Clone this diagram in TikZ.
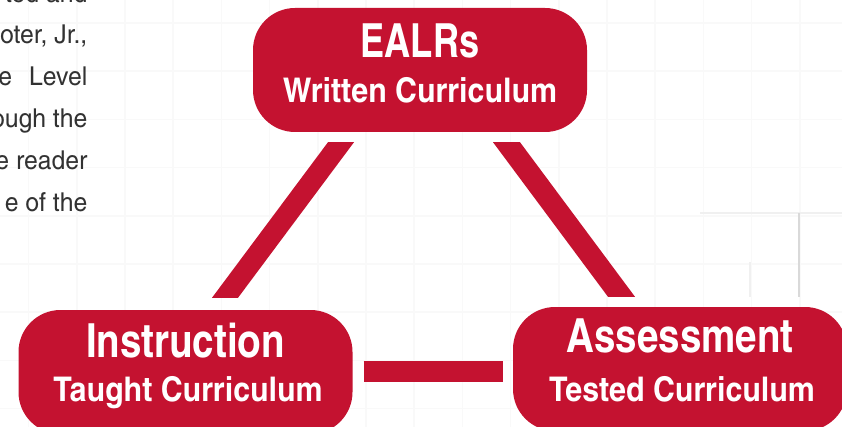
\documentclass[tikz,border=0pt]{standalone}
\usepackage{fontspec}
\newfontfamily\cnfont{TeX Gyre Heros Cn}
\newfontfamily\subfont{TeX Gyre Heros Cn}[FakeStretch=1.09]
\newfontfamily\bodyfont{TeX Gyre Heros Cn}[FakeStretch=1.16]
\usetikzlibrary{calc}
\definecolor{crim}{RGB}{196,18,48}
\definecolor{bodytext}{RGB}{50,50,50}
\begin{document}
\begin{tikzpicture}[x=1pt,y=-1pt,
  box/.style={fill=crim, rounded corners=42pt, minimum width=334pt, minimum height=124pt, inner sep=0pt},
  head/.style={anchor=base, text=white, font=\cnfont\bfseries\fontsize{47}{47}\selectfont, inner sep=0pt},
  sub/.style={anchor=base, text=white, font=\subfont\bfseries\fontsize{34}{34}\selectfont, inner sep=0pt},
  bar/.style={fill=crim},
  hbar/.style={draw=crim, line width=21pt},
  body/.style={anchor=base east, text=bodytext, font=\bodyfont\fontsize{26}{26}\selectfont, inner sep=0pt},
  gridline/.style={draw=gray!5, line width=1.5pt},
  shadowline/.style={draw=gray!22, line width=1.8pt}]
\useasboundingbox (0,0) rectangle (842,427);
\clip (0,0) rectangle (842,427);
% faint background grid
\foreach \i in {0,...,17} { \draw[gridline] ({28.6+48.2*\i},0) -- ({28.6+48.2*\i},427); }
\foreach \j in {0,...,8} { \draw[gridline] (0,{23+48.2*\j}) -- (842,{23+48.2*\j}); }
\draw[shadowline, draw=gray!12] (700,213) -- (842,213);
\draw[shadowline, draw=gray!30] (799,213) -- (799,297);
\draw[shadowline, draw=gray!12] (750,262) -- (750,297);
% body text (cut off at the left)
\node[body] (t0) at (87.5,3) {ted and};
\node[body] (t1) at (87.5,44) {oter, Jr.,};
\node[body] (t2) at (87.5,86) {e\hspace{17pt}Level};
\node[body] (t3) at (87.5,128) {ough the};
\node[body] (t4) at (87.5,170) {e reader};
\node[body] (t5) at (87.5,212) {e of the};
% boxes
\node[box] (ealrs) at (420,70) {};
\node[box] (instr) at (185.5,372) {};
\node[box] (assess) at (680,369) {};
\node[head] (ealrsH) at ([yshift=-50pt]ealrs.north) {\scalebox{0.94}[1]{EALRs}};
\node[sub] (ealrsS) at ([yshift=-95pt]ealrs.north) {Written Curriculum};
\node[head] (instrH) at ([yshift=-48pt]instr.north) {Instruction};
\node[sub] (instrS) at ([xshift=2.5pt,yshift=-92pt]instr.north) {Taught Curriculum};
\node[head] (assessH) at ([yshift=-46pt]assess.north) {Assessment};
\node[sub] (assessS) at ([xshift=2pt,yshift=-95pt]assess.north) {Tested Curriculum};
% connectors
\coordinate (lt) at ($(ealrs.south)+(-79,10)$);
\coordinate (lb) at ($(instr.north)+(39.5,-12)$);
\fill[bar] ([xshift=-13pt]lt) -- ([xshift=13pt]lt) -- ([xshift=13pt]lb) -- ([xshift=-13pt]lb) -- cycle;
\coordinate (rt) at ($(ealrs.south)+(86.5,10)$);
\coordinate (rb) at ($(assess.north)+(-58.5,-10)$);
\fill[bar] ([xshift=-13.5pt]rt) -- ([xshift=13.5pt]rt) -- ([xshift=13.5pt]rb) -- ([xshift=-13.5pt]rb) -- cycle;
\coordinate (hl) at ($(instr.east)+(11,-0.5)$);
\coordinate (hr) at ($(hl -| assess.west)+(-10,0)$);
\draw[hbar] (hl) -- (hr);
\end{tikzpicture}
\end{document}
